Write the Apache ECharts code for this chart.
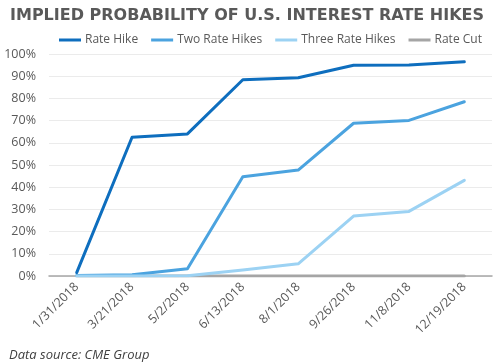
<!DOCTYPE html>
<html><head><meta charset="utf-8">
<script src="https://cdn.jsdelivr.net/npm/echarts@6/dist/echarts.min.js"></script>
<style>html,body{margin:0;padding:0;background:#fff}#c{width:500px;height:364px}</style>
</head><body><div id="c"></div>
<script>
const categories = ['1/31/2018','3/21/2018','5/2/2018','6/13/2018','8/1/2018','9/26/2018','11/8/2018','12/19/2018'];
const rateHike = [1.5, 62.5, 64.0, 88.4, 89.3, 94.9, 95.0, 96.5];
const twoRateHikes = [0.2, 0.6, 3.3, 44.7, 47.7, 68.8, 70.1, 78.5];
const threeRateHikes = [0.0, 0.0, 0.1, 2.7, 5.5, 27.0, 29.1, 43.1];
const rateCut = [0, 0, 0, 0, 0, 0, 0, 0];
const yTicks = [0,10,20,30,40,50,60,70,80,90,100];

const font = '"Open Sans", "Noto Sans", sans-serif';
const chart = echarts.init(document.getElementById('c'), null, {renderer:'canvas'});
function s(name, data, color){
  return {name, type:'line', data, symbol:'none', smooth:false,
    lineStyle:{width:3, color, cap:'round', join:'round'}, itemStyle:{color}};
}
chart.setOption({
  animation:false,
  title:[{text:'IMPLIED PROBABILITY OF U.S. INTEREST RATE HIKES', left:5, top:3,
    textStyle:{fontFamily:'"DejaVu Sans", sans-serif', fontWeight:'bold', fontSize:16, color:'#595959'}},
    {text:'Data source: CME Group', left:4, top:344,
    textStyle:{fontFamily:font, fontStyle:'italic', fontWeight:'normal', fontSize:13, color:'#404040'}}],
  legend:{top:29, left:54, itemWidth:22, itemHeight:3, itemGap:13,
    icon:'rect', textStyle:{fontFamily:font, fontSize:12, color:'#595959', padding:[0,0,0,-1]},
    data:['Rate Hike','Two Rate Hikes','Three Rate Hikes','Rate Cut']},
  grid:{left:49, right:8, top:54, bottom:88, containLabel:false},
  xAxis:{type:'category', data:categories, boundaryGap:true,
    axisLine:{lineStyle:{color:'#A6A6A6', width:1.5}}, axisTick:{show:false},
    axisLabel:{rotate:45, color:'#595959', fontFamily:font, fontSize:12.5, margin:9, interval:0}},
  yAxis:{type:'value', min:0, max:100, interval:10,
    axisLine:{show:false}, axisTick:{show:false},
    splitLine:{lineStyle:{color:'#EBEBEB', width:1}},
    axisLabel:{color:'#595959', fontFamily:font, fontSize:12.5, margin:13, formatter:v=>v+'%'}},
  series:[
    s('Rate Hike', rateHike, '#0E6EBE'),
    s('Two Rate Hikes', twoRateHikes, '#4BA3DF'),
    s('Three Rate Hikes', threeRateHikes, '#9CD2F3'),
    Object.assign(s('Rate Cut', rateCut, '#A5A5A5'), {z:1})
  ]
});
</script></body></html>
